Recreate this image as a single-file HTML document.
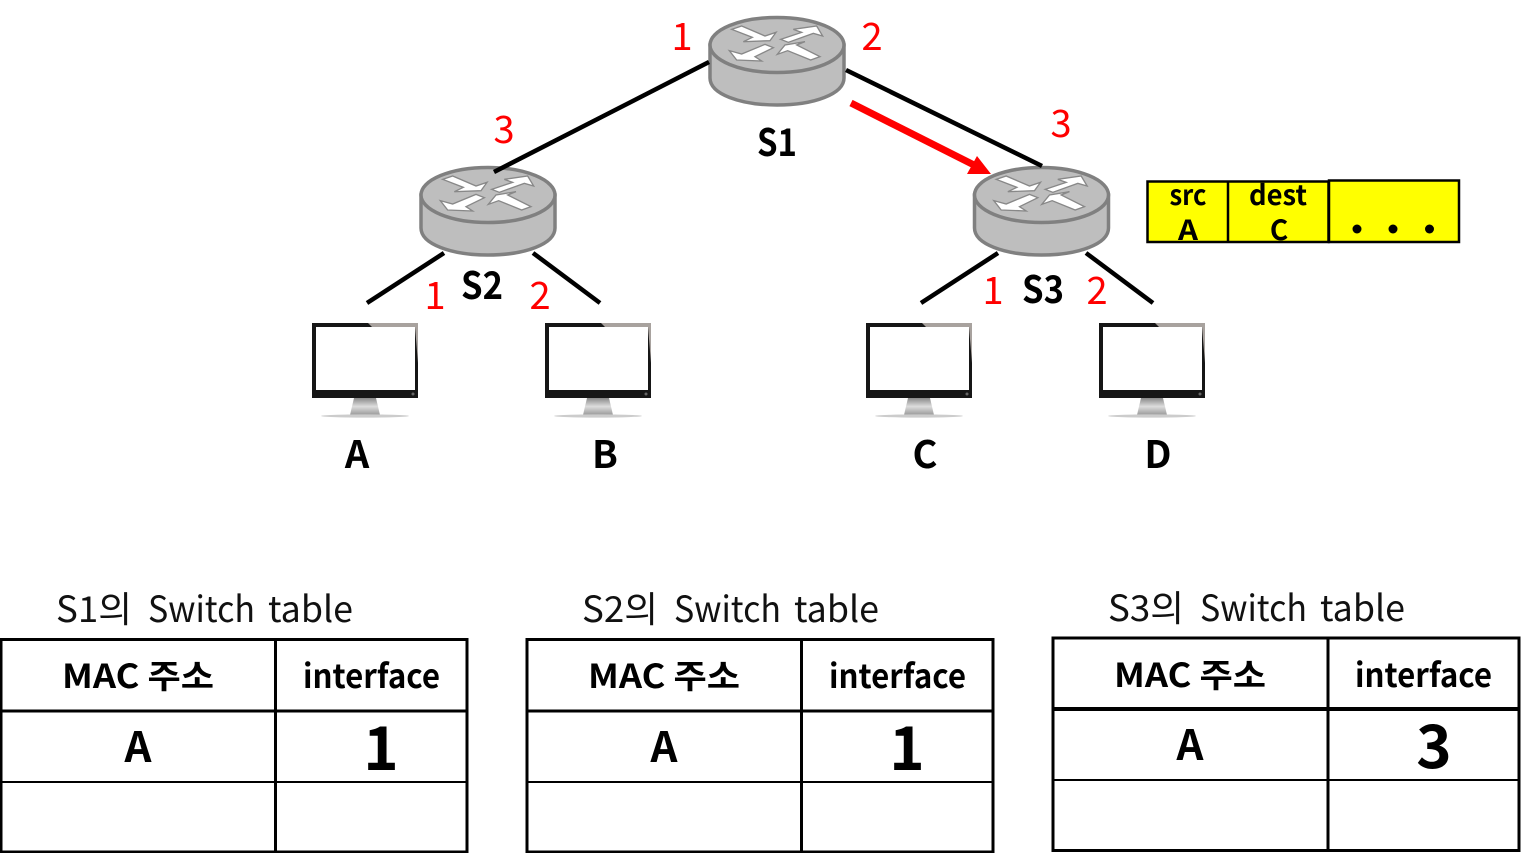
<!DOCTYPE html>
<html><head><meta charset="utf-8"><style>
html,body{margin:0;padding:0;background:#fff;width:1526px;height:853px;overflow:hidden}
svg{display:block}
text{font-family:"Liberation Sans","Noto Sans CJK KR",sans-serif}
.b{font-family:"Noto Sans CJK KR","Liberation Sans",sans-serif;font-weight:700;fill:#000}
.r{font-family:"Noto Sans CJK KR","Liberation Sans",sans-serif;font-weight:400;fill:#f00;font-size:38px}
.t{font-family:"Noto Sans CJK KR","Liberation Sans",sans-serif;font-weight:400;fill:#111;font-size:36px}
</style></head><body>
<svg width="1526" height="853" viewBox="0 0 1526 853" xmlns="http://www.w3.org/2000/svg">
<defs>
<linearGradient id="st" x1="0" y1="0" x2="0" y2="1"><stop offset="0" stop-color="#888"/><stop offset=".5" stop-color="#ddd"/><stop offset="1" stop-color="#999"/></linearGradient>
<g id="router">
<path d="M-67 0V33C-67 49 -37 60 0 60S67 49 67 33V0Z" fill="#bebebe" stroke="#808080" stroke-width="3.5"/>
<ellipse cx="0" cy="0" rx="67" ry="27.5" fill="#bebebe" stroke="#808080" stroke-width="3.5"/>
<g transform="scale(.3333) translate(-261,-135)" fill="#fff" stroke="#888" stroke-width="4" stroke-linejoin="miter">
<polygon points="125,88 155,78 225,108 258,97 240,122 160,125 187,112"/>
<polygon points="272,118 335,97 310,88 380,78 398,108 370,100 295,127"/>
<polygon points="118,152 140,180 215,183 195,170 250,143 225,133 155,162"/>
<polygon points="262,163 285,135 345,125 320,135 390,170 362,180 293,152"/>
</g>
</g>
<g id="pc">
<rect x="0" y="0" width="106" height="75" fill="#161616"/>
<polygon points="56,0 106,0 106,40 103,4 60,4" fill="#a8a29e"/>
<rect x="4" y="4" width="99" height="63" fill="#fff"/>
<polygon points="42,75 64,75 68,92 38,92" fill="url(#st)"/>
<ellipse cx="53" cy="93" rx="44" ry="1.6" fill="#ccc"/>
<circle cx="101" cy="71" r="1.5" fill="#666"/>
</g>
<g id="tbl" fill="none" stroke="#000">
<rect x="1" y="639.500" width="466" height="212.500" stroke-width="3"/>
<line x1="275.500" y1="640" x2="275.500" y2="852" stroke-width="3"/>
<line x1="1" y1="711" x2="467" y2="711" stroke-width="3"/>
<line x1="1" y1="782" x2="467" y2="782" stroke-width="2"/>
</g>
</defs>

<use href="#router" x="777" y="45"/>
<use href="#router" x="488" y="195"/>
<use href="#router" x="1041.500" y="195"/>

<g stroke="#000" stroke-width="4.5" fill="none">
<line x1="709" y1="62" x2="494" y2="172"/>
<line x1="846" y1="70" x2="1042" y2="166"/>
<line x1="444" y1="253" x2="367" y2="303"/>
<line x1="533" y1="253" x2="600" y2="303"/>
<line x1="998" y1="253" x2="921" y2="303"/>
<line x1="1086" y1="253" x2="1153" y2="303"/>
</g>
<line x1="851" y1="103" x2="974" y2="165" stroke="#f00" stroke-width="7"/>
<polygon points="991,174 967,174 977,156" fill="#f00"/>

<use href="#pc" x="312" y="323"/>
<use href="#pc" x="545" y="323"/>
<use href="#pc" x="866" y="323"/>
<use href="#pc" x="1099" y="323"/>

<g class="b" font-size="38" text-anchor="middle">
<text class="b" x="777" y="156" textLength="40" lengthAdjust="spacingAndGlyphs">S1</text>
<text class="b" x="482" y="299" textLength="42" lengthAdjust="spacingAndGlyphs">S2</text>
<text class="b" x="1043" y="303" textLength="42" lengthAdjust="spacingAndGlyphs">S3</text>
<text class="b" x="357" y="468">A</text>
<text class="b" x="605" y="468">B</text>
<text class="b" x="925" y="468">C</text>
<text class="b" x="1158" y="468">D</text>
</g>

<g text-anchor="middle">
<text class="r" x="682" y="50">1</text>
<text class="r" x="872" y="50">2</text>
<text class="r" x="504" y="143">3</text>
<text class="r" x="1061" y="137">3</text>
<text class="r" x="435" y="309">1</text>
<text class="r" x="540" y="309">2</text>
<text class="r" x="993" y="304">1</text>
<text class="r" x="1097" y="304">2</text>
</g>

<!-- packet -->
<rect x="1147.500" y="181.500" width="181" height="60.500" fill="#ff0" stroke="#000" stroke-width="2.500"/>
<rect x="1329" y="180.500" width="130" height="61.500" fill="#ff0" stroke="#000" stroke-width="2.500"/>
<line x1="1228" y1="181" x2="1228" y2="242" stroke="#000" stroke-width="2.500"/>
<g text-anchor="middle" font-size="28">
<text class="b" x="1188" y="205" textLength="37" lengthAdjust="spacingAndGlyphs">src</text>
<text class="b" x="1188" y="240" textLength="20" lengthAdjust="spacingAndGlyphs">A</text>
<text class="b" x="1278" y="205" textLength="58" lengthAdjust="spacingAndGlyphs">dest</text>
<text class="b" x="1279" y="240">C</text>
</g>
<g fill="#000">
<circle cx="1357" cy="229" r="4.500"/>
<circle cx="1393" cy="229" r="4.500"/>
<circle cx="1429.500" cy="229" r="4.500"/>
</g>

<!-- tables -->
<use href="#tbl" x="0" y="0"/>
<use href="#tbl" x="526" y="0"/>
<g fill="none" stroke="#000">
<rect x="1053" y="638" width="466" height="212.500" stroke-width="3"/>
<line x1="1328" y1="638" x2="1328" y2="850.500" stroke-width="3"/>
<line x1="1053" y1="709" x2="1519" y2="709" stroke-width="4"/>
<line x1="1053" y1="780" x2="1519" y2="780" stroke-width="2"/>
</g>

<g>
<text class="t" x="56" y="622" textLength="76" lengthAdjust="spacingAndGlyphs">S1의</text>
<text class="t" x="148" y="622" textLength="107" lengthAdjust="spacingAndGlyphs">Switch</text>
<text class="t" x="268" y="622" textLength="85" lengthAdjust="spacingAndGlyphs">table</text>
<text class="t" x="582" y="622" textLength="76" lengthAdjust="spacingAndGlyphs">S2의</text>
<text class="t" x="674" y="622" textLength="107" lengthAdjust="spacingAndGlyphs">Switch</text>
<text class="t" x="794" y="622" textLength="85" lengthAdjust="spacingAndGlyphs">table</text>
<text class="t" x="1108" y="621" textLength="76" lengthAdjust="spacingAndGlyphs">S3의</text>
<text class="t" x="1200" y="621" textLength="107" lengthAdjust="spacingAndGlyphs">Switch</text>
<text class="t" x="1320" y="621" textLength="85" lengthAdjust="spacingAndGlyphs">table</text>
</g>

<g font-size="33">
<text class="b" x="62" y="688" textLength="152" lengthAdjust="spacingAndGlyphs">MAC 주소</text>
<text class="b" x="303" y="688" textLength="137" lengthAdjust="spacingAndGlyphs">interface</text>
<text class="b" x="588" y="688" textLength="152" lengthAdjust="spacingAndGlyphs">MAC 주소</text>
<text class="b" x="829" y="688" textLength="137" lengthAdjust="spacingAndGlyphs">interface</text>
<text class="b" x="1114" y="687" textLength="152" lengthAdjust="spacingAndGlyphs">MAC 주소</text>
<text class="b" x="1355" y="687" textLength="137" lengthAdjust="spacingAndGlyphs">interface</text>
</g>
<g text-anchor="middle">
<text class="b" x="138" y="762" font-size="42">A</text>
<text class="b" x="664" y="762" font-size="42">A</text>
<text class="b" x="1190" y="760" font-size="42">A</text>
<text class="b" x="381" y="770" font-size="60">1</text>
<text class="b" x="907" y="770" font-size="60">1</text>
<text class="b" x="1434" y="768" font-size="60">3</text>
</g>
</svg>
</body></html>
